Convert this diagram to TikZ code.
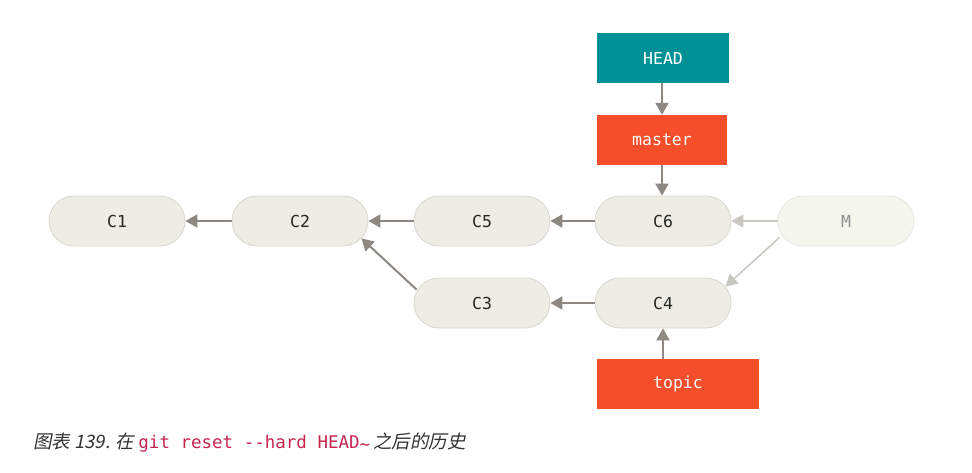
\documentclass[tikz,border=0pt]{standalone}
\usepackage{fontspec}
\setmainfont{Noto Sans}
\newfontfamily\monof{DejaVu Sans Mono}
\newfontfamily\cjkit[FakeSlant=0.2]{Noto Sans CJK SC}
\usetikzlibrary{arrows.meta}
\definecolor{headc}{HTML}{009196}
\definecolor{branchc}{HTML}{F44F2A}
\definecolor{commitc}{HTML}{EDECE6}
\definecolor{commitb}{HTML}{D9D7CF}
\definecolor{mfill}{HTML}{F5F5F0}
\definecolor{mborder}{HTML}{E8E7E2}
\definecolor{arrowc}{HTML}{8D8881}
\definecolor{lightarrow}{HTML}{C9C7C2}
\definecolor{captc}{HTML}{333333}
\definecolor{codec}{HTML}{C7254E}
\begin{document}
\begin{tikzpicture}[x=1pt,y=-1pt,
  commit/.style={draw=commitb,fill=commitc,line width=0.8pt,rounded corners=25pt,minimum width=136pt,minimum height=50pt,inner sep=0pt,font=\monof\fontsize{16.5}{18}\selectfont,text=black!85},
  ghost/.style={commit,draw=mborder,fill=mfill,text=black!45},
  refbox/.style={minimum height=50pt,inner sep=0pt,font=\monof\fontsize{16.5}{18}\selectfont,text=white},
  arr/.style={-{Triangle[length=12pt,width=13pt]},draw=arrowc,fill=arrowc,line width=2pt},
  larr/.style={arr,draw=lightarrow,fill=lightarrow,line width=1.5pt}]
\useasboundingbox (0,0) rectangle (972,472);
\node[refbox,fill=headc,minimum width=132pt] (head) at (663,58) {HEAD};
\node[refbox,fill=branchc,minimum width=130pt] (master) at (662,140) {master};
\node[refbox,fill=branchc,minimum width=162pt] (topic) at (678,384) {topic};
\node[commit] (c1) at (117,221) {C1};
\node[commit] (c2) at (300,221) {C2};
\node[commit] (c5) at (482,221) {C5};
\node[commit] (c6) at (663,221) {C6};
\node[ghost] (m) at (846,221) {M};
\node[commit] (c3) at (482,303) {C3};
\node[commit] (c4) at (663,303) {C4};
\draw[arr] (c2) -- (c1);
\draw[arr] (c5) -- (c2);
\draw[arr] (c6) -- (c5);
\draw[arr] (c4) -- (c3);
\coordinate (c3s) at ([shift={(3,12)}]c3.north west);
\coordinate (c2e) at ([shift={(-7,-8)}]c2.south east);
\draw[arr] (c3s) -- (c2e);
\draw[larr] (m) -- (c6);
\coordinate (ms) at ([shift={(2,-9)}]m.south west);
\coordinate (c4e) at ([shift={(-6,9)}]c4.north east);
\draw[larr] (ms) -- (c4e);
\draw[arr] (head.south -| master.north) -- (master.north);
\draw[arr] (master.south) -- (master.south |- c6.north);
\draw[arr] (topic.north -| c4.south) -- (c4.south);
\node[anchor=base west,inner sep=0pt,text=captc] (cap) at (33,448) {\cjkit\fontsize{18.5}{20}\selectfont 图表 139. 在 \textcolor{codec}{\monof\fontsize{17.5}{20}\selectfont git reset --hard HEAD\raisebox{-2pt}{\textasciitilde}}\,\cjkit 之后的历史};
\end{tikzpicture}
\end{document}
